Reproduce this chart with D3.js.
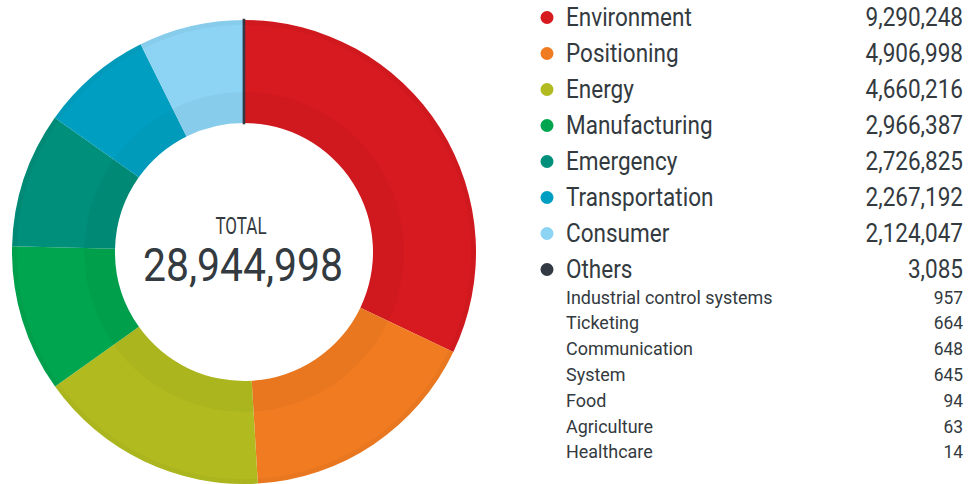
<!DOCTYPE html>
<html>
<head>
<meta charset="utf-8">
<script src="https://cdn.jsdelivr.net/npm/d3@7"></script>
<style>
  body { margin: 0; background: #fff; }
  text { font-family: "Roboto", sans-serif; fill: #333a40; }
</style>
</head>
<body>
<div id="chart"></div>
<script>
var width = 972;
var height = 484;

// data
var categories = ["Environment", "Positioning", "Energy", "Manufacturing", "Emergency", "Transportation", "Consumer", "Others"];
var values = [9290248, 4906998, 4660216, 2966387, 2726825, 2267192, 2124047, 3085];
var colors = ["#d71920", "#f07b21", "#b1bb1f", "#00a54f", "#008f7a", "#009fc2", "#8dd3f3", "#333a44"];
var otherNames = ["Industrial control systems", "Ticketing", "Communication", "System", "Food", "Agriculture", "Healthcare"];
var otherValues = [957, 664, 648, 645, 94, 63, 14];

var fmt = d3.format(",");
var total = d3.sum(values);

var svg = d3.select("#chart").append("svg")
    .attr("width", width)
    .attr("height", height);

var cx = 244, cy = 252;
var rOuter = 232, rInner = 129;

var pie = d3.pie().sort(null).value(function(d) { return d; });
var arcs = pie(values);

var arc = d3.arc().innerRadius(rInner).outerRadius(rOuter);

var g = svg.append("g").attr("transform", "translate(" + cx + "," + cy + ")");

g.selectAll("path.slice")
    .data(arcs)
    .enter()
    .append("path")
    .attr("class", "slice")
    .attr("d", arc)
    .attr("fill", function(d, i) { return colors[i]; })
    // tiny "Others" slice still shows as a thin line
    .attr("stroke", function(d, i) { return i == 7 ? colors[i] : "none"; })
    .attr("stroke-width", function(d, i) { return i == 7 ? 2.5 : 0; });

// soft shading rings
g.append("path")
    .attr("d", d3.arc().innerRadius(rInner).outerRadius(160).startAngle(0).endAngle(2 * Math.PI)())
    .attr("fill", "#000")
    .attr("opacity", 0.03);
g.append("path")
    .attr("d", d3.arc().innerRadius(rOuter - 5).outerRadius(rOuter).startAngle(0).endAngle(2 * Math.PI)())
    .attr("fill", "#000")
    .attr("opacity", 0.03);

// condensed look: squeeze text horizontally
function squeeze(x, y, sx) {
    return "translate(" + x + "," + y + ") scale(" + sx + ",1)";
}

// center total
g.append("text")
    .attr("text-anchor", "middle")
    .attr("transform", squeeze(-3, -18, 0.74))
    .style("font-size", "23px")
    .text("TOTAL");
g.append("text")
    .attr("text-anchor", "middle")
    .attr("transform", squeeze(-1, 29, 0.88))
    .style("font-size", "46.5px")
    .text(fmt(total));

// legend
var legend = svg.append("g");
var rowY = d3.scaleLinear().domain([0, 1]).range([26, 62]);

var rows = legend.selectAll("g.row")
    .data(categories)
    .enter()
    .append("g")
    .attr("class", "row")
    .attr("transform", function(d, i) { return "translate(0," + rowY(i) + ")"; });

rows.append("circle")
    .attr("cx", 547)
    .attr("cy", -8.5)
    .attr("r", 6.5)
    .attr("fill", function(d, i) { return colors[i]; });

rows.append("text")
    .attr("transform", squeeze(566, 0, 0.85))
    .style("font-size", "26.5px")
    .text(function(d) { return d; });

rows.append("text")
    .attr("transform", squeeze(963, 0, 0.85))
    .attr("text-anchor", "end")
    .style("font-size", "26.5px")
    .text(function(d, i) { return fmt(values[i]); });

var subY = d3.scaleLinear().domain([0, 1]).range([303.5, 329.3]);

var subs = legend.selectAll("g.sub")
    .data(otherNames)
    .enter()
    .append("g")
    .attr("class", "sub")
    .attr("transform", function(d, i) { return "translate(0," + subY(i) + ")"; });

subs.append("text")
    .attr("transform", squeeze(566, 0, 0.96))
    .style("font-size", "18.7px")
    .text(function(d) { return d; });

subs.append("text")
    .attr("transform", squeeze(963, 0, 0.93))
    .attr("text-anchor", "end")
    .style("font-size", "18.7px")
    .text(function(d, i) { return fmt(otherValues[i]); });
</script>
</body>
</html>
